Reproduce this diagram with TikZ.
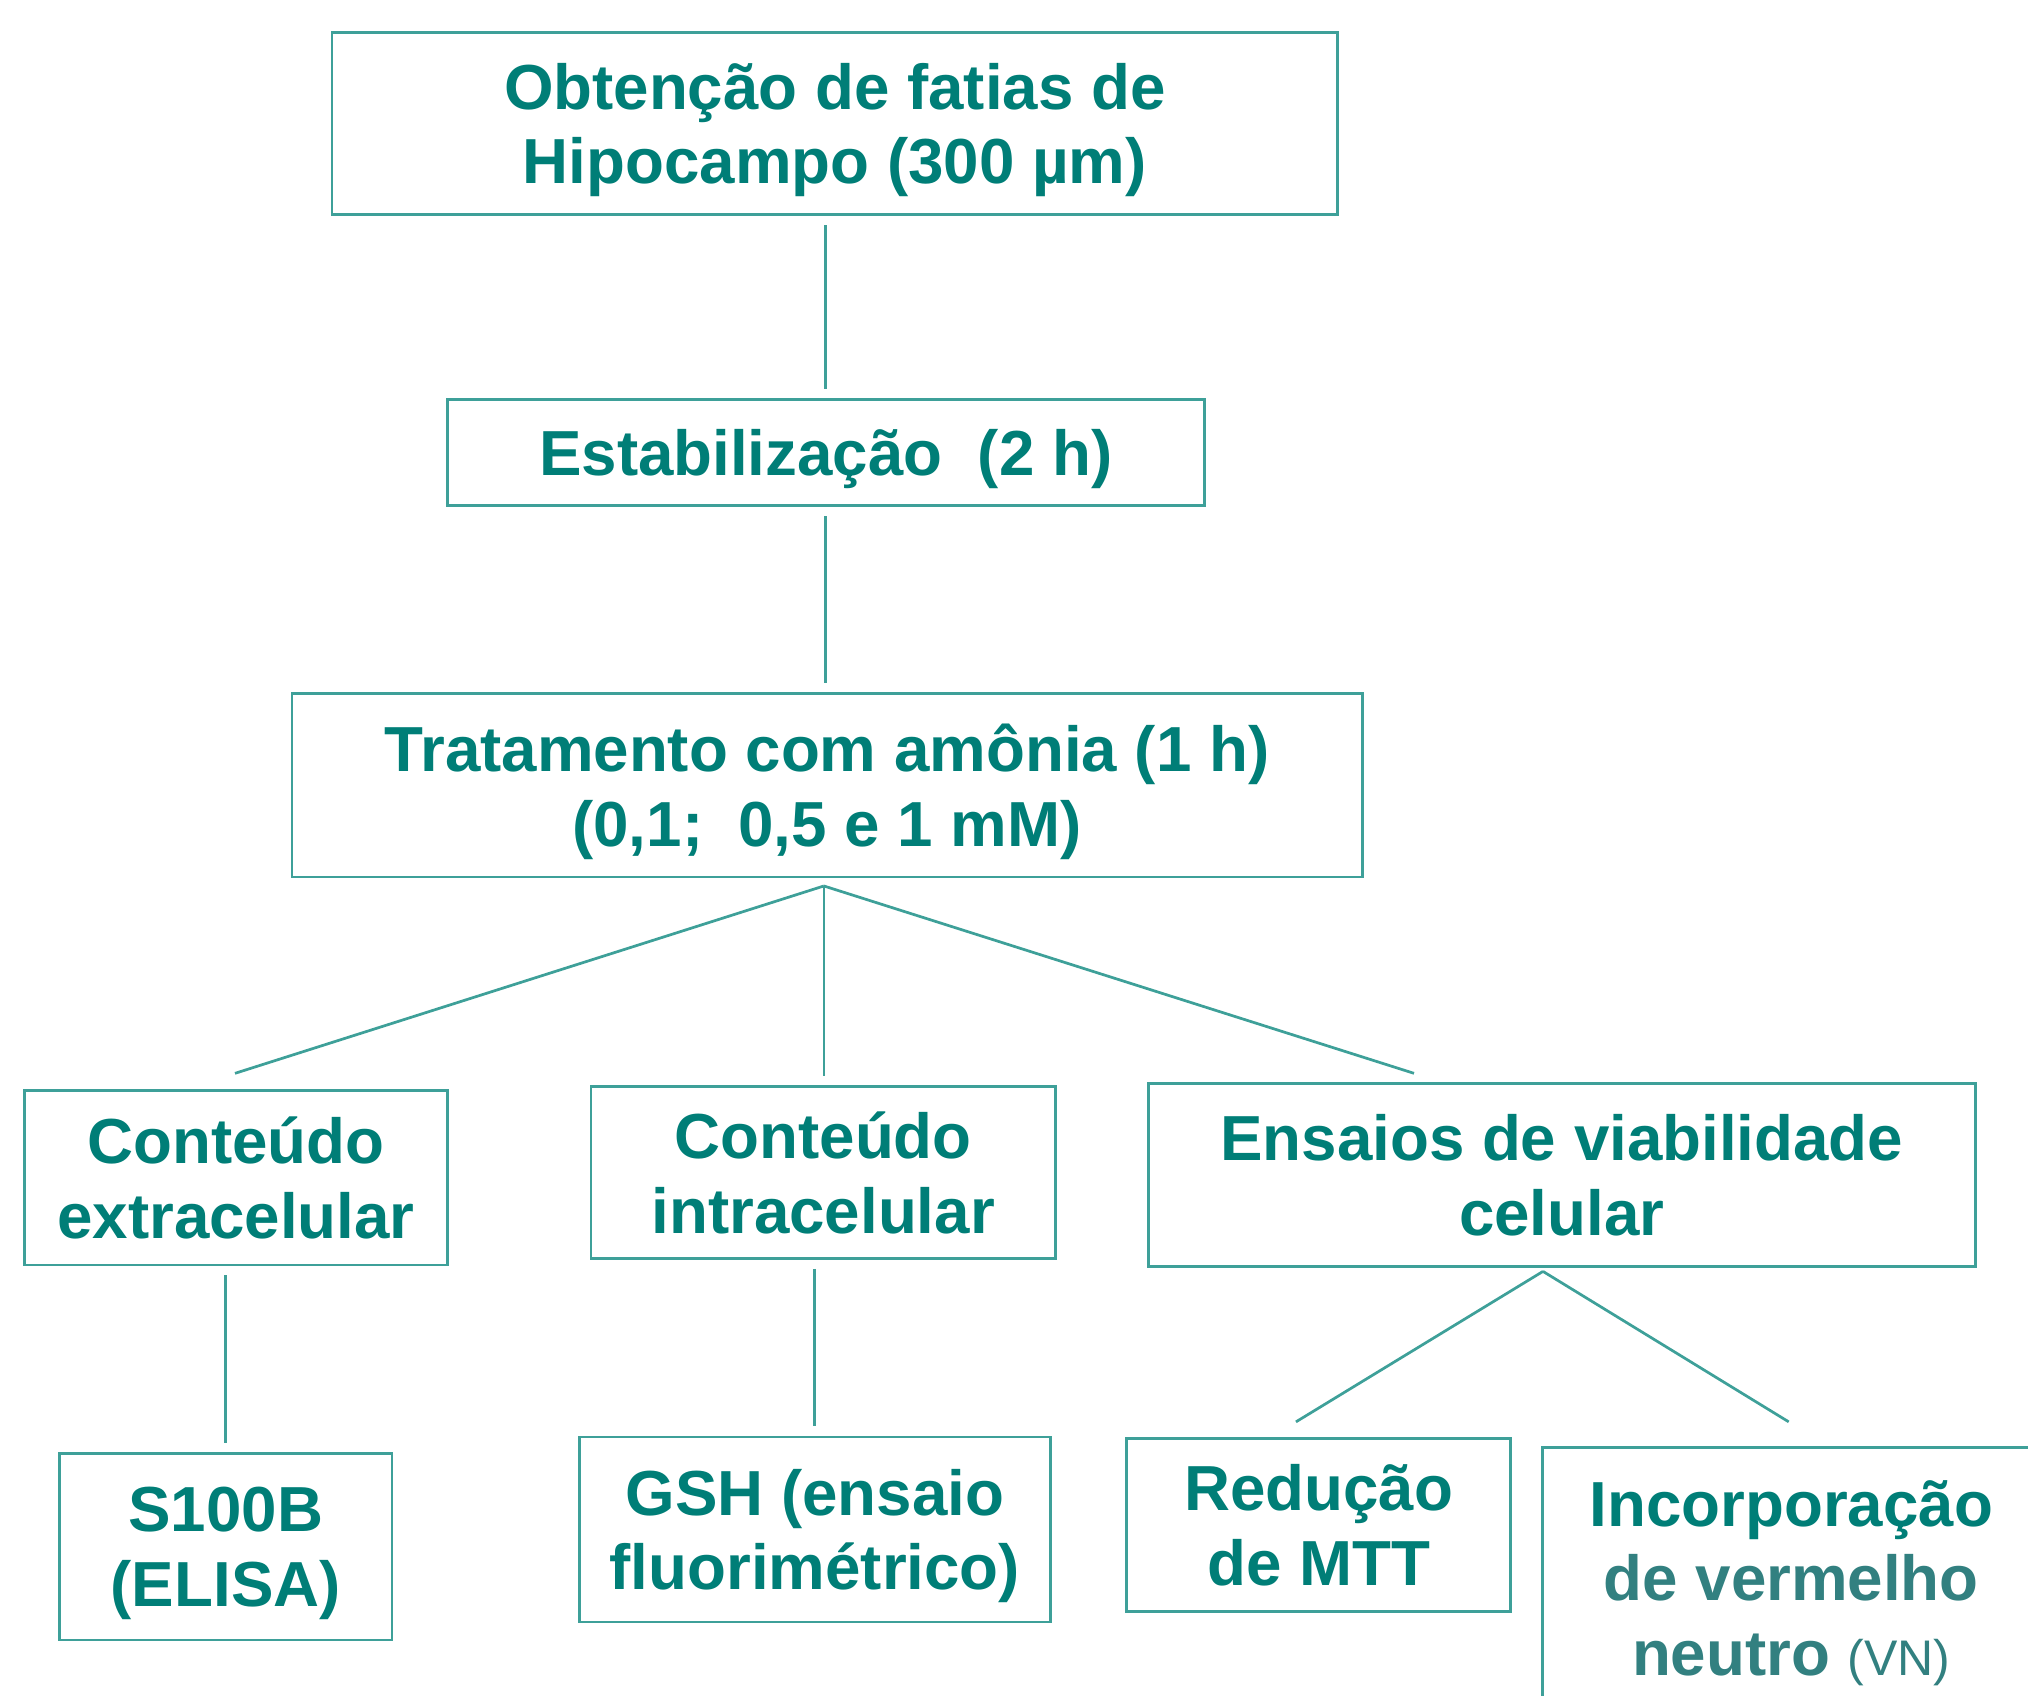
\documentclass[tikz,border=0pt]{standalone}
\usepackage{fontspec}
\setmainfont{Liberation Sans}
\usepackage{xcolor}
\usepackage{tikz}

\definecolor{tealtxt}{RGB}{0,126,119}
\definecolor{tealgrey}{RGB}{50,128,128}
\definecolor{teallin}{RGB}{62,160,153}

\begin{document}
\begin{tikzpicture}[x=0.01cm, y=-0.01cm,
        box/.style={draw=teallin, line width=0.6pt, rectangle, inner sep=0pt, align=center,
            text=tealtxt, font=\bfseries\fontsize{14}{16.4}\selectfont, text depth=0pt},
        link/.style={draw=teallin, line width=0.6pt, shorten <=2pt, shorten >=2pt}]
        \useasboundingbox (0,0) rectangle (1568,1311);

        % Root
        \node[box, minimum width=7.77cm, minimum height=1.41cm] (obt) at (645.5,95.5) {Obtenção de fatias de\\Hipocampo (300 µm)};
        \node[box, minimum width=5.85cm, minimum height=0.82cm] (est) at (638.5,350) {Estabilização\ \ (2 h)};
        \node[box, minimum width=8.27cm, minimum height=1.42cm] (trat) at (639.5,607) {Tratamento com amônia (1 h)\\(0,1;\ \ 0,5 e 1 mM)};

        % Level 1
        \node[box, minimum width=3.27cm, minimum height=1.35cm] (ext) at (182.5,910.5) {Conteúdo\\extracelular};
        \node[box, minimum width=3.59cm, minimum height=1.33cm] (intra) at (636.5,906.5) {Conteúdo\\intracelular};
        \node[box, minimum width=6.39cm, minimum height=1.41cm] (ens) at (1207.5,908.5) {Ensaios de viabilidade\\celular};

        % Level 2
        \node[box, minimum width=2.57cm, minimum height=1.44cm] (s100) at (174.5,1196) {S100B\\(ELISA)};
        \node[box, minimum width=3.64cm, minimum height=1.43cm] (gsh) at (630,1182.5) {GSH (ensaio\\fluorimétrico)};
        \node[box, minimum width=2.97cm, minimum height=1.34cm] (mtt) at (1019.5,1179) {Redução\\de MTT};
        \node[box, minimum width=3.84cm, minimum height=2.02cm] (vn) at (1385,1220) {Incorporação\\\textcolor{tealgrey}{de vermelho}\\\textcolor{tealgrey}{neutro {\mdseries\fontsize{11}{13}\selectfont(VN)}}};

        % Free ends
        \coordinate (tratBot) at (637,685);
        \coordinate (extTop) at (175,832);
        \coordinate (ensTop) at (1100,832);
        \coordinate (ensBot) at (1193,983);
        \coordinate (mttTop) at (996,1103);
        \coordinate (vnTop) at (1389,1103);

        % Connections
        \draw[link] (est.north |- obt.south) -- (est.north);
        \draw[link] (est.south) -- (est.south |- trat.north);
        \draw[link, shorten <=0pt] (tratBot) -- (extTop);
        \draw[link, shorten <=0pt] (tratBot) -- (tratBot |- intra.north);
        \draw[link, shorten <=0pt] (tratBot) -- (ensTop);
        \draw[link] (s100.north |- ext.south) -- (s100.north);
        \draw[link] (intra.south -| gsh.north) -- (gsh.north);
        \draw[link, shorten <=0pt] (ensBot) -- (mttTop);
        \draw[link, shorten <=0pt] (ensBot) -- (vnTop);
    \end{tikzpicture}
\end{document}
